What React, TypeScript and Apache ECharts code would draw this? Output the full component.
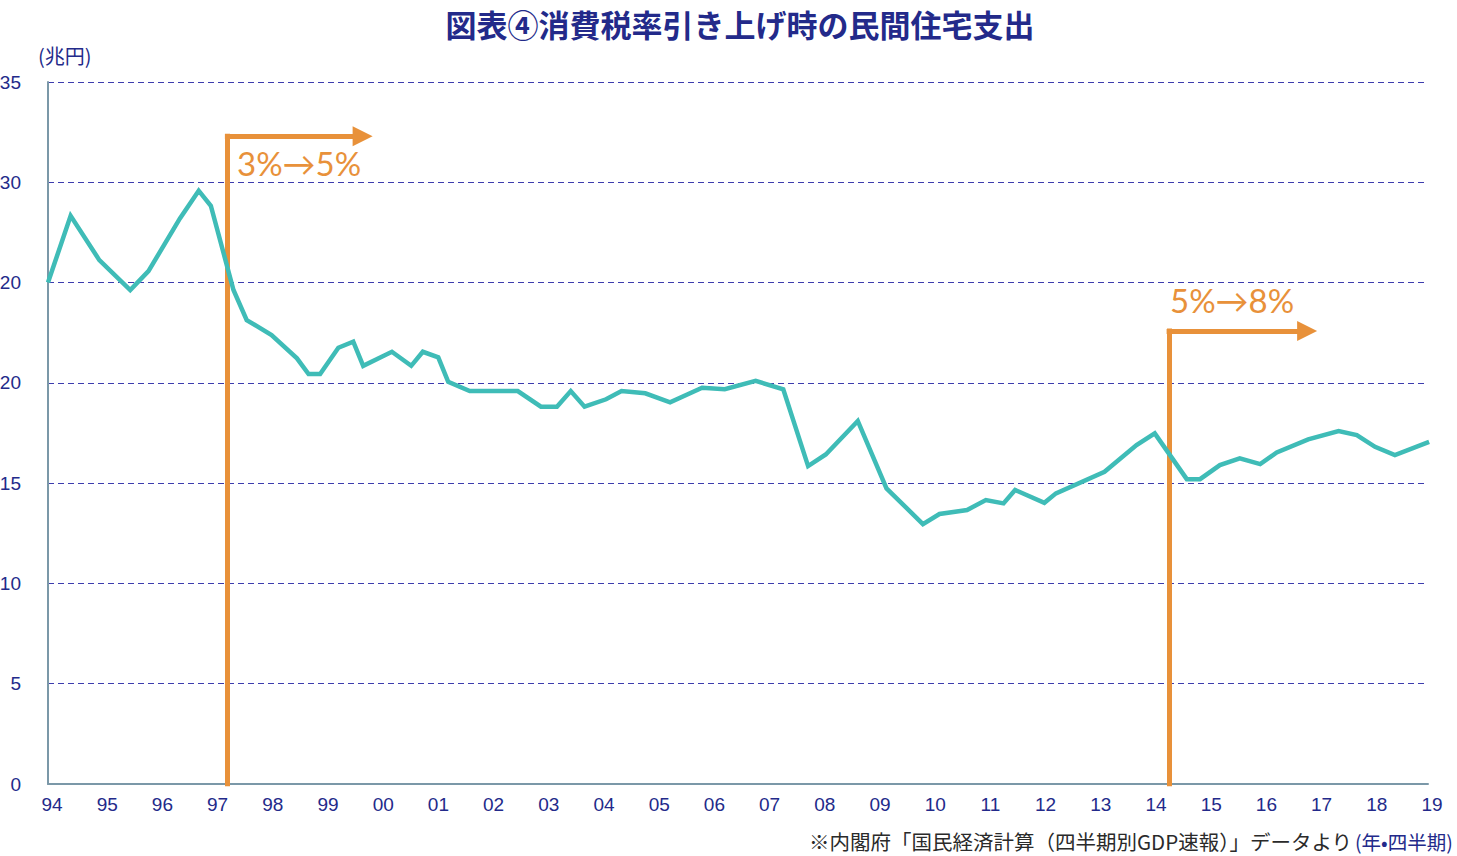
import React, { useEffect, useRef } from 'react';
import * as echarts from 'echarts';

// Time (decimal year) of each vertex of the plotted line, and the value (兆円)
const periods = [
  1994.0, 1994.41, 1994.93, 1995.49, 1995.82, 1996.39, 1996.73, 1996.95, 1997.36, 1997.6,
  1998.05, 1998.51, 1998.72, 1998.93, 1999.26, 1999.53, 1999.71, 2000.23, 2000.58, 2000.79,
  2001.07, 2001.25, 2001.64, 2002.51, 2002.93, 2003.22, 2003.47, 2003.72, 2004.11, 2004.39,
  2004.82, 2005.27, 2005.85, 2006.26, 2006.82, 2007.32, 2007.77, 2008.09, 2008.67, 2009.19,
  2009.85, 2010.15, 2010.65, 2010.99, 2011.31, 2011.52, 2012.05, 2012.26, 2013.14, 2013.72,
  2014.05, 2014.63, 2014.87, 2015.23, 2015.59, 2015.96, 2016.26, 2016.83, 2017.38, 2017.71,
  2018.04, 2018.4, 2019.02,
];
const housingSpend = [
  25.0, 28.33, 26.12, 24.63, 25.57, 28.2, 29.58, 28.83, 24.63, 23.13,
  22.38, 21.22, 20.44, 20.44, 21.75, 22.05, 20.85, 21.55, 20.85, 21.55,
  21.27, 20.05, 19.59, 19.59, 18.81, 18.81, 19.59, 18.81, 19.18, 19.59,
  19.48, 19.03, 19.76, 19.68, 20.1, 19.68, 15.85, 16.43, 18.1, 14.74,
  12.96, 13.46, 13.66, 14.16, 13.99, 14.66, 14.02, 14.49, 15.57, 16.9,
  17.48, 15.2, 15.2, 15.9, 16.24, 15.95, 16.53, 17.18, 17.6, 17.4,
  16.81, 16.4, 17.06,
];
const yTickLabels = ['0', '5', '10', '15', '20', '20', '30', '35'];

// Consumption-tax hikes: date, label, arrow level (兆円) and arrow end (year)
const taxHikeDates = [1997.25, 2014.31];
const taxHikeLabels = ['3%→5%', '5%→8%'];
const arrowLevels = [32.3, 22.58];
const arrowEnds = [1999.7, 2016.81];

const TITLE = '図表④消費税率引き上げ時の民間住宅支出';
const UNIT = '(兆円)';
const SOURCE = '※内閣府「国民経済計算（四半期別GDP速報）」データより';
const SOURCE_NOTE = '(年•四半期)';

const NAVY = '#232A8A';
const ORANGE = '#E8913A';
const TEAL = '#3FBCB7';
const JP = '"Noto Sans CJK JP", sans-serif';
const NUM = '"Liberation Sans", Arial, sans-serif';

export default function App() {
  const ref = useRef<HTMLDivElement>(null);
  useEffect(() => {
    if (!ref.current) return;
    const chart = echarts.init(ref.current, undefined, { renderer: 'svg' });
    const lineData = periods.map((t, i) => [t, housingSpend[i]]);
    const verticals = taxHikeDates.map((t, i) => ({ coords: [[t, 0], [t, arrowLevels[i]]] }));
    const horizontals = taxHikeDates.map((t, i) => ({
      coords: [[t, arrowLevels[i]], [arrowEnds[i], arrowLevels[i]]],
    }));
    const txt = (
      text: string,
      x: number,
      y: number,
      fontSize: number,
      fill: string,
      align: string,
      fontFamily: string,
      fontWeight: string = 'normal'
    ) => ({
      type: 'text',
      x,
      y,
      style: {
        text,
        fontSize,
        fontWeight,
        fontFamily,
        fill,
        lineHeight: Math.ceil(fontSize) + 1,
        align,
        verticalAlign: 'middle',
        textAlign: align,
        textVerticalAlign: 'middle',
      },
    });
    chart.setOption({
      animation: false,
      grid: {
        left: 48,
        right: 29,
        top: 82,
        bottom: 72,
        containLabel: false,
        outerBoundsMode: 'none',
      },
      xAxis: {
        type: 'value',
        min: 1994,
        max: 2019,
        interval: 1,
        axisLine: { show: true, lineStyle: { color: '#7B98A8', width: 2 } },
        axisTick: { show: false },
        splitLine: { show: false },
        axisLabel: {
          color: NAVY,
          fontSize: 19,
          fontFamily: NUM,
          margin: 11,
          padding: [0, 0, 0, 8],
          formatter: (v: number) => String(v).slice(2),
        },
      },
      yAxis: {
        type: 'value',
        min: 0,
        max: 35,
        interval: 5,
        axisLine: { show: true, lineStyle: { color: '#7B98A8', width: 2 } },
        axisTick: { show: false },
        splitLine: {
          show: true,
          lineStyle: { color: '#3C3CAE', width: 1.2, type: [6, 4] },
        },
        axisLabel: {
          color: NAVY,
          fontSize: 19,
          fontFamily: NUM,
          margin: 27,
          formatter: (v: number) => yTickLabels[Math.round(v / 5)] ?? '',
        },
      },
      series: [
        {
          type: 'lines',
          coordinateSystem: 'cartesian2d',
          data: verticals,
          symbol: 'none',
          lineStyle: { color: ORANGE, width: 5, opacity: 1, cap: 'square' },
          z: 2,
          silent: true,
        },
        {
          type: 'lines',
          coordinateSystem: 'cartesian2d',
          data: horizontals,
          symbol: ['none', 'triangle'],
          symbolSize: [26, 20],
          lineStyle: { color: ORANGE, width: 5, opacity: 1, cap: 'square' },
          z: 2,
          silent: true,
        },
        {
          type: 'line',
          data: lineData,
          showSymbol: false,
          symbol: 'none',
          lineStyle: { color: TEAL, width: 4.5, join: 'miter' },
          z: 3,
        },
      ],
      graphic: [
        txt(TITLE, 740, 23, 31, NAVY, 'center', JP, 'bold'),
        txt(UNIT, 38, 55, 20, NAVY, 'left', JP),
        txt(SOURCE, 1352, 841, 20.5, '#2A2A2A', 'right', JP),
        txt(SOURCE_NOTE, 1355, 841.5, 19.5, NAVY, 'left', JP),
        txt(taxHikeLabels[0], 237, 163, 33, ORANGE, 'left', 'Lato, "Noto Sans", sans-serif'),
        txt(taxHikeLabels[1], 1170, 300, 33, ORANGE, 'left', 'Lato, "Noto Sans", sans-serif'),
      ],
    });
    return () => chart.dispose();
  }, []);
  return (
    <div
      ref={ref}
      style={{ position: 'fixed', left: 0, top: 0, width: 1457, height: 856, background: '#fff' }}
    />
  );
}
